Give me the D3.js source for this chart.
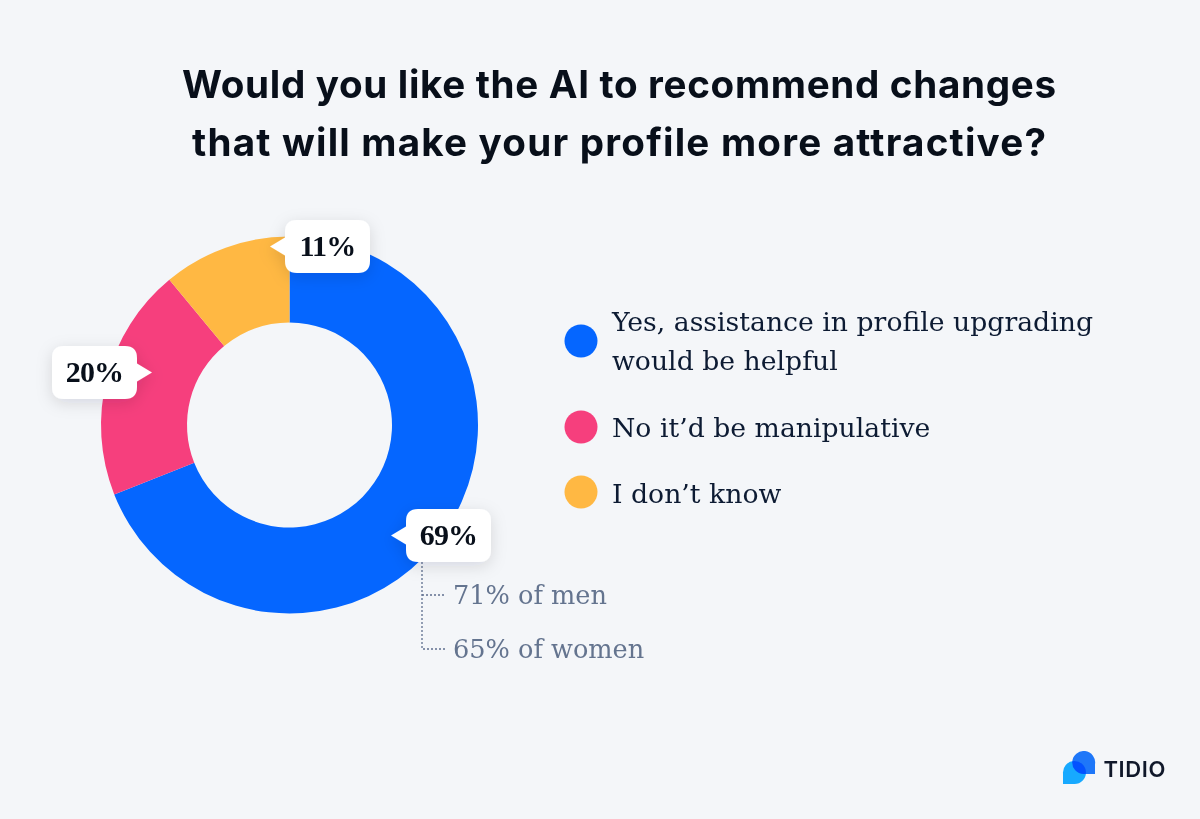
<!DOCTYPE html>
<html>
<head>
<meta charset="utf-8">
<script src="https://cdn.jsdelivr.net/npm/d3@7"></script>
<style>
  html, body { margin: 0; padding: 0; background: #f4f6f9; }
  svg { display: block; }
</style>
</head>
<body>
<script>
const titleLines = ["Would you like the AI to recommend changes", "that will make your profile more attractive?"];
const answers = ["Yes, assistance in profile upgrading\nwould be helpful", "No it\u2019d be manipulative", "I don\u2019t know"];
const shares = [69, 20, 11];
const colors = ["#0566ff", "#f63f7d", "#ffb843"];
const breakdownLabels = ["71% of men", "65% of women"];

const width = 1200, height = 819;
const serif = "'DejaVu Serif', serif";
const sans = "Inter, 'Noto Sans', sans-serif";

const svg = d3.select("body").append("svg")
    .attr("width", width)
    .attr("height", height);

// shadow for the callouts
const shadow = svg.append("defs").append("filter")
    .attr("id", "shadow")
    .attr("x", "-40%").attr("y", "-40%")
    .attr("width", "180%").attr("height", "180%");
shadow.append("feDropShadow")
    .attr("dx", 0).attr("dy", 4)
    .attr("stdDeviation", 8)
    .attr("flood-color", "#0b1a33")
    .attr("flood-opacity", 0.13);

svg.append("rect")
    .attr("width", width)
    .attr("height", height)
    .attr("fill", "#f4f6f9");

// title, each line stretched to the width it has in the picture
const titleWidths = [874, 854];
svg.selectAll("text.title").data(titleLines).join("text")
    .attr("class", "title")
    .attr("x", 619)
    .attr("y", (d, i) => 98 + i * 57.5)
    .attr("text-anchor", "middle")
    .attr("font-family", sans)
    .attr("font-size", 38.6)
    .attr("font-weight", 700)
    .attr("fill", "#080f1a")
    .attr("textLength", (d, i) => titleWidths[i])
    .attr("lengthAdjust", "spacing")
    .text(d => d);

// donut
const cx = 289.5, cy = 425;
const pie = d3.pie().sort(null).value(d => d);
const arc = d3.arc().innerRadius(102.5).outerRadius(188.5);
const donut = svg.append("g").attr("transform", `translate(${cx},${cy})`);
donut.selectAll("path").data(pie(shares)).join("path")
    .attr("d", arc)
    .attr("fill", (d, i) => colors[i]);

// callouts: box position + which side the little pointer sits on
const callouts = [
    { i: 0, x: 406, y: 509, side: "left" },
    { i: 1, x: 52, y: 346, side: "right" },
    { i: 2, x: 285, y: 220, side: "left" }
];
const boxW = 85, boxH = 53, r = 12;
function calloutPath(c) {
    const p = d3.path();
    const mid = c.y + boxH / 2;
    p.moveTo(c.x + r, c.y);
    p.lineTo(c.x + boxW - r, c.y);
    p.quadraticCurveTo(c.x + boxW, c.y, c.x + boxW, c.y + r);
    if (c.side === "right") {
        p.lineTo(c.x + boxW, mid - 9);
        p.lineTo(c.x + boxW + 15, mid);
        p.lineTo(c.x + boxW, mid + 9);
    }
    p.lineTo(c.x + boxW, c.y + boxH - r);
    p.quadraticCurveTo(c.x + boxW, c.y + boxH, c.x + boxW - r, c.y + boxH);
    p.lineTo(c.x + r, c.y + boxH);
    p.quadraticCurveTo(c.x, c.y + boxH, c.x, c.y + boxH - r);
    if (c.side === "left") {
        p.lineTo(c.x, mid + 9);
        p.lineTo(c.x - 15, mid);
        p.lineTo(c.x, mid - 9);
    }
    p.lineTo(c.x, c.y + r);
    p.quadraticCurveTo(c.x, c.y, c.x + r, c.y);
    p.closePath();
    return p.toString();
}

// dotted leaders under the 69% box
const leaderX = 422;
const breakdownY = [595, 649];
const dots = svg.append("g")
    .attr("fill", "none")
    .attr("stroke", "#5f6f8f")
    .attr("stroke-width", 1.3)
    .attr("stroke-dasharray", "2 2");
dots.append("path")
    .attr("d", `M${leaderX},562V${breakdownY[1]}H446`);
dots.append("path")
    .attr("d", `M${leaderX},${breakdownY[0]}H446`);

svg.selectAll("text.breakdown").data(breakdownLabels).join("text")
    .attr("class", "breakdown")
    .attr("x", 453)
    .attr("y", (d, i) => breakdownY[i] + 9)
    .attr("font-family", serif)
    .attr("font-size", 25.6)
    .attr("fill", "#64748f")
    .text(d => d);

const boxes = svg.selectAll("g.callout").data(callouts).join("g").attr("class", "callout");
boxes.append("path")
    .attr("d", calloutPath)
    .attr("fill", "#fff")
    .attr("filter", "url(#shadow)");
boxes.append("text")
    .attr("x", d => d.x + boxW / 2)
    .attr("y", d => d.y + 36)
    .attr("text-anchor", "middle")
    .attr("font-family", "'Liberation Serif', serif")
    .attr("font-size", 30)
    .attr("font-weight", 700)
    .attr("letter-spacing", -0.8)
    .attr("fill", "#080f1a")
    .text(d => shares[d.i] + "%");

// legend
const legendY = [341, 427, 492];
const legendBaselines = [[330.5, 369.5], [436.5], [503]];
const legend = svg.selectAll("g.legend").data(answers).join("g").attr("class", "legend");
legend.append("circle")
    .attr("cx", 581)
    .attr("cy", (d, i) => legendY[i])
    .attr("r", 16.5)
    .attr("fill", (d, i) => colors[i]);
legend.each(function(d, i) {
    d3.select(this).selectAll("text").data(d.split("\n")).join("text")
        .attr("x", 612)
        .attr("y", (l, j) => legendBaselines[i][j])
        .attr("font-family", serif)
        .attr("font-size", 26.7)
        .attr("fill", "#0d1b33")
        .text(l => l);
});

// logo
const logo = svg.append("g");
logo.append("path")
    .attr("d", "M1063,784V773.5a11.5,11.5,0,1,1,11.5,10.5Z")
    .attr("fill", "#17a9ff");
logo.append("path")
    .attr("d", "M1095,774V764.5a11.5,11.5,0,1,0,-11.5,9.5Z")
    .attr("fill", "#1f7bff")
    .style("mix-blend-mode", "multiply");
logo.append("text")
    .attr("x", 1103.5)
    .attr("y", 777)
    .attr("font-family", sans)
    .attr("font-size", 22)
    .attr("font-weight", 600)
    .attr("letter-spacing", 0.6)
    .attr("fill", "#10182a")
    .text("TIDIO");
</script>
</body>
</html>
